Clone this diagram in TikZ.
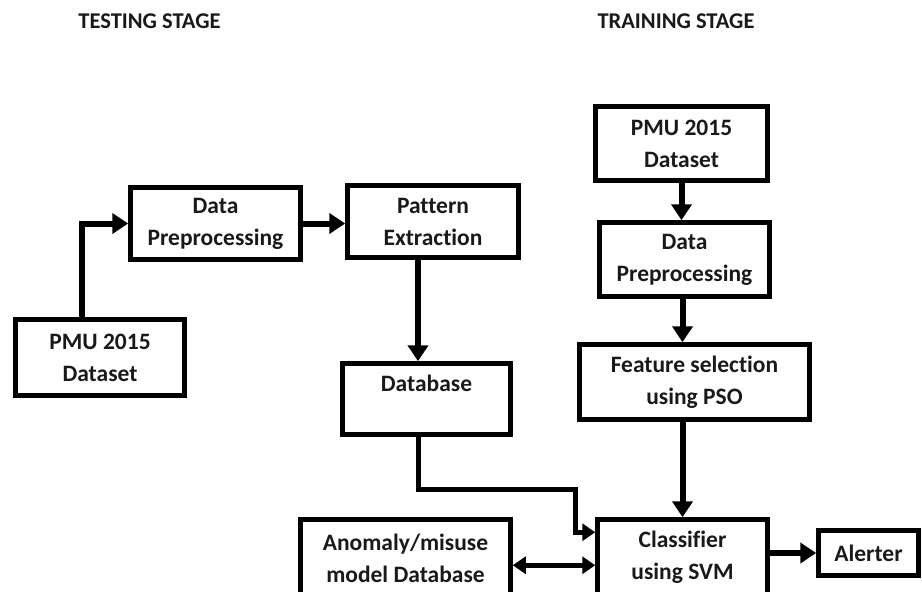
\documentclass[tikz,border=0pt]{standalone}
\usepackage{fontspec}
\setmainfont{Carlito}[Ligatures=NoCommon]
\usetikzlibrary{arrows.meta,positioning}
\begin{document}
\begin{tikzpicture}[x=1pt,y=-1pt,
  blk/.style={draw,line width=4.5pt,align=center,inner sep=0pt,
    font=\bfseries\fontsize{23.5}{32}\selectfont,text=black!90},
  arr/.style={line width=6pt,-{Triangle[length=16pt,width=20pt]}},
  ttl/.style={font=\bfseries\fontsize{22.5}{24}\selectfont,text=black!90}]
\useasboundingbox (0,0) rectangle (922,592);
\clip (0,0) rectangle (922,592);
% titles
\node[ttl] (testT) at (149.5,21) {TESTING STAGE};
\node[ttl] (trainT) at (676,21) {TRAINING STAGE};
% testing side
\node[blk,minimum width=169pt,minimum height=76pt] (pmuA) at (100,357.5) {PMU 2015\\Dataset};
\node[blk,minimum width=170pt,minimum height=72pt] (dpA) at (215.5,223.5) {Data\\Preprocessing};
\node[blk,minimum width=171pt,minimum height=72pt] (patA) at (433,221.5) {Pattern\\Extraction};
\node[blk,minimum width=168pt,minimum height=71pt] (dbA) at (426.5,399) {Database\\\mbox{}};
\node[blk,minimum width=210pt,minimum height=77pt] (anom) at (405.5,558) {Anomaly/misuse\\model Database};
% training side
\node[blk,minimum width=172pt,minimum height=74pt] (pmuB) at (681.5,143.5) {PMU 2015\\Dataset};
\node[blk,minimum width=170pt,minimum height=74pt] (dpB) at (684.5,259.5) {Data\\Preprocessing};
\node[blk,minimum width=230pt,minimum height=75pt] (featB) at (694.5,382) {Feature selection\\using PSO};
\node[blk,minimum width=170pt,minimum height=75pt] (clf) at (682.5,557) {Classifier\\using SVM};
\node[blk,minimum width=100pt,minimum height=45pt] (alert) at (868.5,553) {Alerter};
% arrows
\draw[arr] ([xshift=-18pt]pmuA.north) |- (dpA.west);
\draw[arr] (dpA.east) -- (dpA.east -| patA.west);
\draw[arr] ([xshift=-15pt]patA.south) -- ([xshift=-15pt]patA.south |- dbA.north);
\draw[arr] (pmuB.south) -- (pmuB.south |- dpB.north);
\draw[arr] ([xshift=-2pt]dpB.south) -- ([xshift=-2pt]dpB.south |- featB.north);
\draw[arr] (featB.south -| clf.north) -- (clf.north);
\draw[line width=5pt,-{Triangle[length=13pt,width=17pt]}] ([xshift=-8pt]dbA.south) -- ++(0,53)
  -| ([xshift=-20pt,yshift=-15pt]clf.north west) -- ([yshift=-15pt]clf.north west);
\draw[line width=5pt,{Triangle[length=13pt,width=17pt]}-{Triangle[length=13pt,width=17pt]}]
  ([yshift=-48pt]anom.north east) -- ([yshift=-48pt]clf.north west);
\draw[arr] (clf.east |- alert.west) -- (alert.west);
\end{tikzpicture}
\end{document}
